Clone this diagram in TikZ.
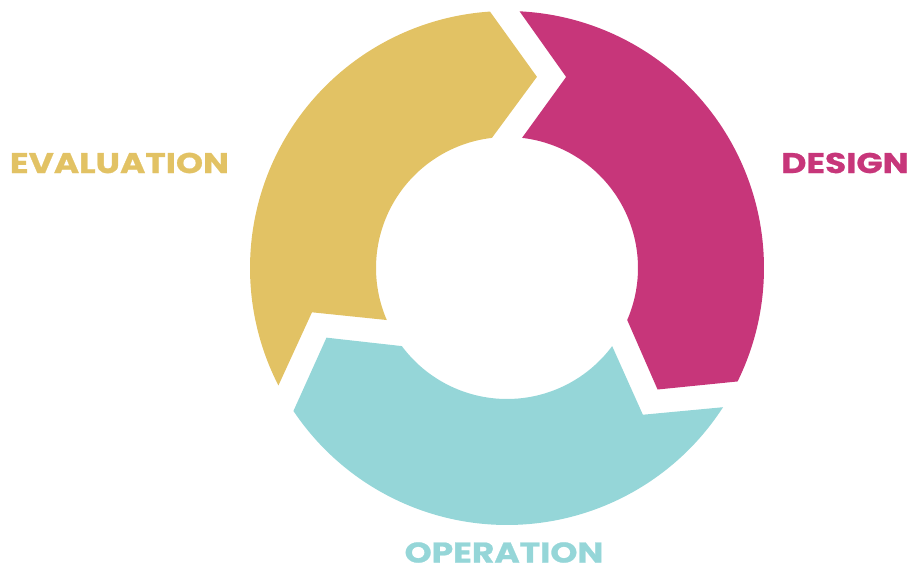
\documentclass[tikz,border=0pt]{standalone}
\usepackage{fontspec}
\setmainfont{Poppins}[BoldFeatures={FakeBold=0.8}]
\definecolor{evalc}{HTML}{E2C264}
\definecolor{desc}{HTML}{C7367A}
\definecolor{opc}{HTML}{95D6D8}
\newcommand\widetext[1]{\scalebox{1.21}[1]{#1}}
\tikzset{
  lbl/.style={inner sep=0pt, font=\fontsize{28.5}{30}\selectfont\bfseries},
}
\newcommand\ringpiece[2]{%
  \fill[#2] ({207.2+#1}:257pt) arc[start angle={207.2+#1}, end angle={93.8+#1}, radius=257pt]
    -- ({81.1+#1}:193.5pt) -- ({96.6+#1}:131pt)
    arc[start angle={96.6+#1}, end angle={203.4+#1}, radius=131pt]
    -- ({192.8+#1}:200pt) -- cycle;}
\begin{document}
\begin{tikzpicture}[x=1pt,y=1pt]
\useasboundingbox (0,0) rectangle (914,571);
\begin{scope}[shift={(507,303)}]
  \ringpiece{0}{evalc}
  \ringpiece{-120}{desc}
  \ringpiece{120}{opc}
\end{scope}
\node[lbl, text=evalc] (evaluation) at (119.5,408) {\widetext{EVALUATION}};
\node[lbl, text=desc] (design) at (845,408) {\widetext{DESIGN}};
\node[lbl, text=opc] (operation) at (504,18.5) {\widetext{OPERATION}};
\end{tikzpicture}
\end{document}
